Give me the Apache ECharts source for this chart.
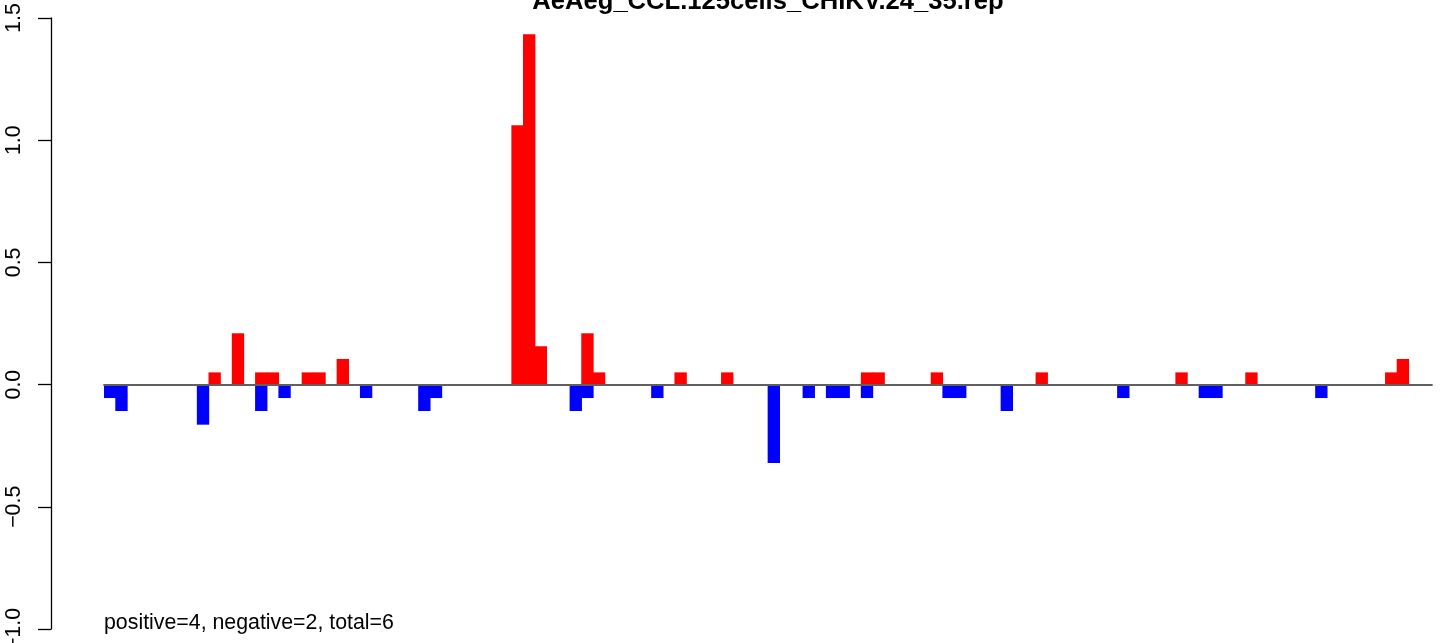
<!DOCTYPE html>
<html>
<head>
<meta charset="utf-8">
<script src="https://cdn.jsdelivr.net/npm/echarts@6/dist/echarts.min.js"></script>
<style>html,body{margin:0;padding:0;background:#fff}#c{width:1449px;height:643px}</style>
</head>
<body>
<div id="c"></div>
<script>
const chartTitle = 'AeAeg_CCL.125cells_CHIKV.24_35.rep';
const footNote = 'positive=4, negative=2, total=6';
const yTicks = [-1.0, -0.5, 0.0, 0.5, 1.0, 1.5];

// 114 positions (bar index = category)
const categories = Array.from({length: 114}, (_, i) => String(i + 1));

const positiveValues = [
  0, 0, 0, 0, 0, 0, 0, 0, 0, 0.05,
  0, 0.21, 0, 0.05, 0.05, 0, 0, 0.05, 0.05, 0,
  0.105, 0, 0, 0, 0, 0, 0, 0, 0, 0,
  0, 0, 0, 0, 0, 1.061, 1.434, 0.157, 0, 0,
  0, 0.21, 0.05, 0, 0, 0, 0, 0, 0, 0.05,
  0, 0, 0, 0.05, 0, 0, 0, 0, 0, 0,
  0, 0, 0, 0, 0, 0.05, 0.05, 0, 0, 0,
  0, 0.05, 0, 0, 0, 0, 0, 0, 0, 0,
  0.05, 0, 0, 0, 0, 0, 0, 0, 0, 0,
  0, 0, 0.05, 0, 0, 0, 0, 0, 0.05, 0,
  0, 0, 0, 0, 0, 0, 0, 0, 0, 0,
  0.05, 0.105, 0, 0
];

const negativeValues = [
  -0.055, -0.108, 0, 0, 0, 0, 0, 0, -0.164, 0,
  0, 0, 0, -0.108, 0, -0.055, 0, 0, 0, 0,
  0, 0, -0.055, 0, 0, 0, 0, -0.108, -0.055, 0,
  0, 0, 0, 0, 0, 0, 0, 0, 0, 0,
  -0.108, -0.055, 0, 0, 0, 0, 0, -0.055, 0, 0,
  0, 0, 0, 0, 0, 0, 0, -0.321, 0, 0,
  -0.055, 0, -0.055, -0.055, 0, -0.055, 0, 0, 0, 0,
  0, 0, -0.055, -0.055, 0, 0, 0, -0.108, 0, 0,
  0, 0, 0, 0, 0, 0, 0, -0.055, 0, 0,
  0, 0, 0, 0, -0.055, -0.055, 0, 0, 0, 0,
  0, 0, 0, 0, -0.055, 0, 0, 0, 0, 0,
  0, 0, 0, 0
];

const FONT = '"Liberation Sans", Arial, Helvetica, sans-serif';
const chart = echarts.init(document.getElementById('c'), null, {renderer: 'canvas'});

function fmt(v) {
  const s = Math.abs(v).toFixed(1);
  return v < 0 ? '\u2212' + s : s;
}

chart.setOption({
  animation: false,
  backgroundColor: '#ffffff',
  title: {
    text: chartTitle,
    left: 768,
    textAlign: 'center',
    top: -11,
    padding: 0,
    textStyle: {fontFamily: FONT, fontSize: 25.6, fontWeight: 'bold', color: '#000'}
  },
  grid: {left: 104, right: 17, top: 18, bottom: 14, containLabel: false, outerBoundsMode: 'none'},
  xAxis: {
    type: 'category',
    data: categories,
    boundaryGap: true,
    z: 5,
    axisLine: {show: true, onZero: true, lineStyle: {color: '#606060', width: 1.8}},
    axisTick: {show: false},
    axisLabel: {show: false},
    splitLine: {show: false}
  },
  yAxis: {
    type: 'value',
    min: yTicks[0],
    max: yTicks[yTicks.length - 1],
    interval: 0.5,
    position: 'left',
    offset: 53,
    axisLine: {show: true, lineStyle: {color: '#000', width: 1.3}},
    axisTick: {show: true, inside: false, length: 13, lineStyle: {color: '#000', width: 1.3}},
    axisLabel: {
      show: true, rotate: 90, margin: 26,
      fontFamily: FONT, fontSize: 21.33, color: '#000',
      formatter: fmt
    },
    splitLine: {show: false}
  },
  series: [
    {
      name: 'positive', type: 'bar', data: positiveValues,
      barWidth: '106%', barGap: '-100%', barCategoryGap: '0%',
      itemStyle: {color: '#FF0000'}
    },
    {
      name: 'negative', type: 'bar', data: negativeValues,
      barWidth: '106%', barGap: '-100%', barCategoryGap: '0%',
      itemStyle: {color: '#0000FF'}
    }
  ],
  graphic: [
    {
      type: 'text', left: 104, top: 613,
      style: {text: footNote, font: '21.33px ' + FONT, fill: '#000'}
    }
  ]
});
</script>
</body>
</html>
